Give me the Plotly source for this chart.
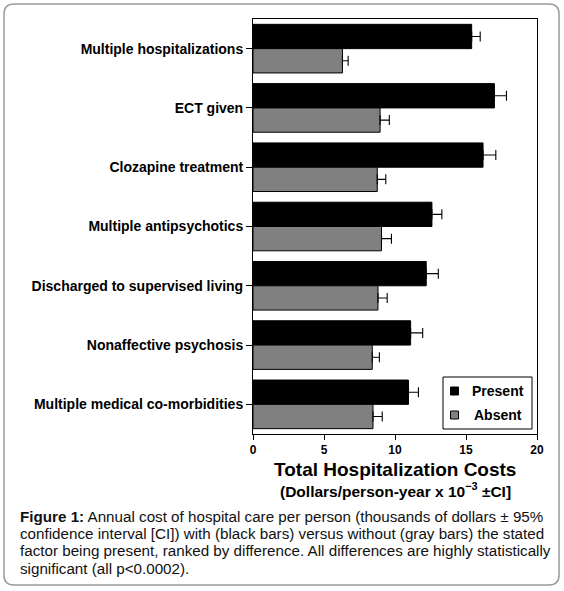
import plotly.graph_objects as go

# factors, ranked by difference (top to bottom)
factors = [
    "Multiple hospitalizations",
    "ECT given",
    "Clozapine treatment",
    "Multiple antipsychotics",
    "Discharged to supervised living",
    "Nonaffective psychosis",
    "Multiple medical co-morbidities",
]
present_cost = [15.4, 17.0, 16.2, 12.6, 12.2, 11.1, 10.95]
present_ci = [0.6, 0.85, 0.9, 0.7, 0.85, 0.85, 0.7]
absent_cost = [6.3, 8.95, 8.75, 9.05, 8.8, 8.4, 8.45]
absent_ci = [0.4, 0.65, 0.6, 0.7, 0.65, 0.5, 0.65]
x_ticks = [0, 5, 10, 15, 20]
series_names = ["Present", "Absent"]
series_colors = ["#000000", "#808080"]

caption_lines = [
    "<b>Figure 1:</b> Annual cost of hospital care per person (thousands of dollars \u00b1 95%",
    "confidence interval [CI]) with (black bars) versus without (gray bars) the stated",
    "factor being present, ranked by difference. All differences are highly statistically",
    "significant (all p<0.0002).",
]

FONT = "Liberation Sans, Arial, Helvetica, sans-serif"
W, H = 564, 591
L, R, T, B = 253, 27, 19, 157
PW, PH = W - L - R, H - T - B


def px_x(px):
    return (px - L) / PW


def px_y(py):
    return (H - B - py) / PH


fig = go.Figure()
for name, color, costs, ci in zip(series_names, series_colors,
                                  [present_cost, absent_cost], [present_ci, absent_ci]):
    fig.add_trace(go.Bar(
        y=factors, x=costs, orientation="h", name=name,
        marker=dict(color=color, line=dict(color="#000000", width=1)),
        error_x=dict(type="data", array=ci, arrayminus=[0] * len(factors),
                     symmetric=False, color="#000000", thickness=1.1, width=5),
        showlegend=False,
    ))

# rounded outer frame
x0, x1 = px_x(4), px_x(559)
y0, y1 = px_y(585), px_y(4)
rx, ry = 10 / PW, 10 / PH
path = (
    f"M {x0 + rx},{y1} L {x1 - rx},{y1} Q {x1},{y1} {x1},{y1 - ry} "
    f"L {x1},{y0 + ry} Q {x1},{y0} {x1 - rx},{y0} "
    f"L {x0 + rx},{y0} Q {x0},{y0} {x0},{y0 + ry} "
    f"L {x0},{y1 - ry} Q {x0},{y1} {x0 + rx},{y1} Z"
)
fig.add_shape(type="path", path=path, xref="paper", yref="paper",
              line=dict(color="#9a9a9a", width=1.5))

# legend box, drawn by hand to match the original layout
fig.add_shape(type="rect", xref="paper", yref="paper",
              x0=px_x(443), x1=px_x(532), y0=px_y(429), y1=px_y(377),
              line=dict(color="#000000", width=1), fillcolor="white", layer="above")
for i, (name, color) in enumerate(zip(series_names, series_colors)):
    cy = 391 + 24 * i
    fig.add_shape(type="rect", xref="paper", yref="paper",
                  x0=px_x(450.5), x1=px_x(458.5), y0=px_y(cy + 4), y1=px_y(cy - 4),
                  line=dict(color="#000000", width=1), fillcolor=color, layer="above")
    fig.add_annotation(
        text=f"<b>{name}</b>", xref="paper", yref="paper", x=px_x(498), y=px_y(cy),
        xanchor="center", yanchor="middle", showarrow=False,
        font=dict(family=FONT, size=14, color="#000000"),
    )

fig.add_annotation(
    text="<b>Total Hospitalization Costs</b>", xref="paper", yref="paper",
    x=0.5, y=px_y(469), xanchor="center", yanchor="middle", showarrow=False,
    font=dict(family=FONT, size=19, color="#000000"),
)
fig.add_annotation(
    text="<b>(Dollars/person-year x 10<sup>\u22123</sup> \u00b1CI]</b>", xref="paper", yref="paper",
    x=0.5, y=px_y(490), xanchor="center", yanchor="middle", showarrow=False,
    font=dict(family=FONT, size=15.5, color="#000000"),
)
for i, line in enumerate(caption_lines):
    fig.add_annotation(
        text=line, xref="paper", yref="paper", x=px_x(18), y=px_y(516 + 17.4 * i),
        xanchor="left", yanchor="middle", align="left", showarrow=False,
        font=dict(family=FONT, size=15.2, color="#111111"),
    )

fig.update_layout(
    width=W, height=H,
    margin=dict(l=L, r=R, t=T, b=B),
    paper_bgcolor="white", plot_bgcolor="white",
    barmode="group", bargap=0.18, bargroupgap=0,
    font=dict(family=FONT, color="#000000"),
    showlegend=False,
)
fig.update_xaxes(
    range=[0, 20], tickvals=x_ticks, ticktext=[f"<b>{t}</b>" for t in x_ticks],
    showgrid=False, zeroline=False, showline=True, linecolor="#000000", linewidth=1,
    mirror=True, ticks="outside", ticklen=5, tickcolor="#000000",
    tickfont=dict(family=FONT, size=12, color="#000000"),
)
fig.update_yaxes(
    autorange="reversed", ticktext=[f"<b>{f}</b>" for f in factors], tickvals=factors,
    showgrid=False, showline=True, linecolor="#000000", linewidth=1, mirror=True,
    ticks="outside", ticklen=6, tickcolor="#000000",
    tickfont=dict(family=FONT, size=14, color="#000000"),
)

fig.write_html("out.html", config={"displayModeBar": False},
               post_script="document.body.style.margin = '0px';")
